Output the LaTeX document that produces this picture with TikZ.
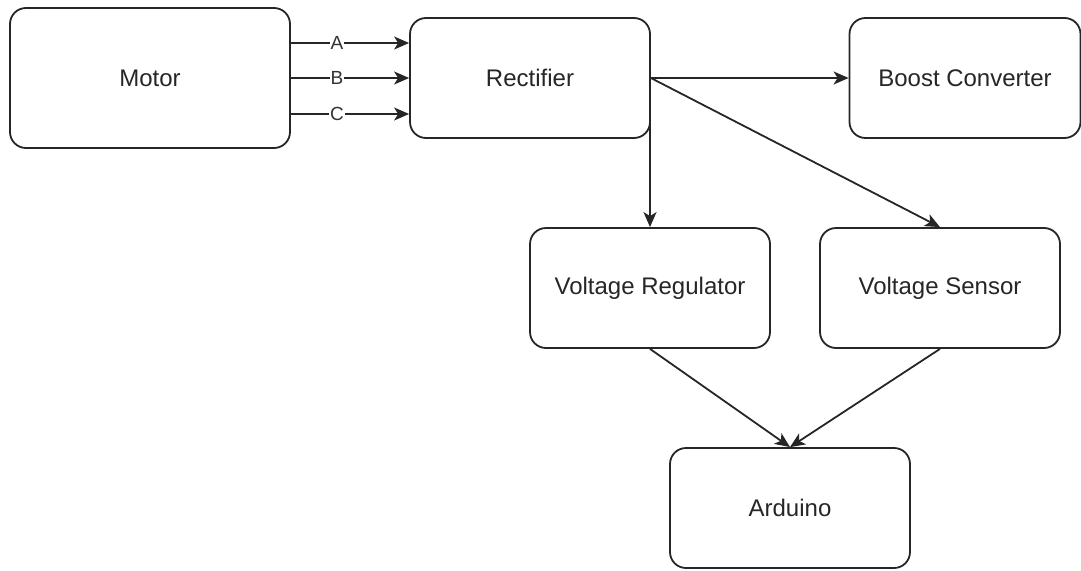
\documentclass[tikz,border=0pt]{standalone}
\usepackage{fontspec}
\setmainfont{Liberation Sans}
\usepackage{tikz}
\usetikzlibrary{arrows.meta}
\tikzstyle{block} = [rectangle, draw=black!85, line width=1.8pt, fill=white,
    text=black!85, rounded corners=16pt, minimum width=240pt, minimum height=120pt,
    font=\fontsize{24}{28}\selectfont, inner sep=0pt]
\tikzstyle{line} = [draw=black!85, line width=1.8pt,
    -{Stealth[length=15pt, width=13pt, inset=4pt]}]
\tikzstyle{phase} = [fill=white, text=black!80, inner sep=1pt,
    font=\fontsize{19}{21}\selectfont, pos=0.39]

\begin{document}
\begin{tikzpicture}[x=1pt, y=-1pt]
            \useasboundingbox (0,0) rectangle (1081,570);
            % Place nodes
            \node [block, minimum width=280pt, minimum height=140pt] (motor) at (150,78) {Motor};
            \node [block, right of=motor, node distance=380pt] (rect) {Rectifier};
            \node [block, right of=rect, node distance=435pt, minimum width=231pt] (boost) {Boost Converter};
            \node [block, below of=rect, xshift=120pt, node distance=210pt] (vreg) {Voltage Regulator};
            \node [block, right of=vreg, node distance=290pt] (vsens) {Voltage Sensor};
            \node [block, below of=vreg, xshift=140pt, node distance=220pt] (ard) {Arduino};
            % Draw edges
            \path [line] ([yshift=35pt]motor.east) -- node [phase] {A} ([yshift=35pt]rect.west);
            \path [line] (motor.east) -- node [phase] {B} (rect.west);
            \path [line] ([yshift=-36pt]motor.east) -- node [phase] {C} ([yshift=-36pt]rect.west);
            \path [line] (rect.east) -- (boost.west);
            \path [line] (vreg.north |- rect.east) -- (vreg.north);
            \path [line] (rect.east) -- (vsens.north);
            \path [line] (vreg.south) -- (ard.north);
            \path [line] (vsens.south) -- (ard.north);
        \end{tikzpicture}
\end{document}
